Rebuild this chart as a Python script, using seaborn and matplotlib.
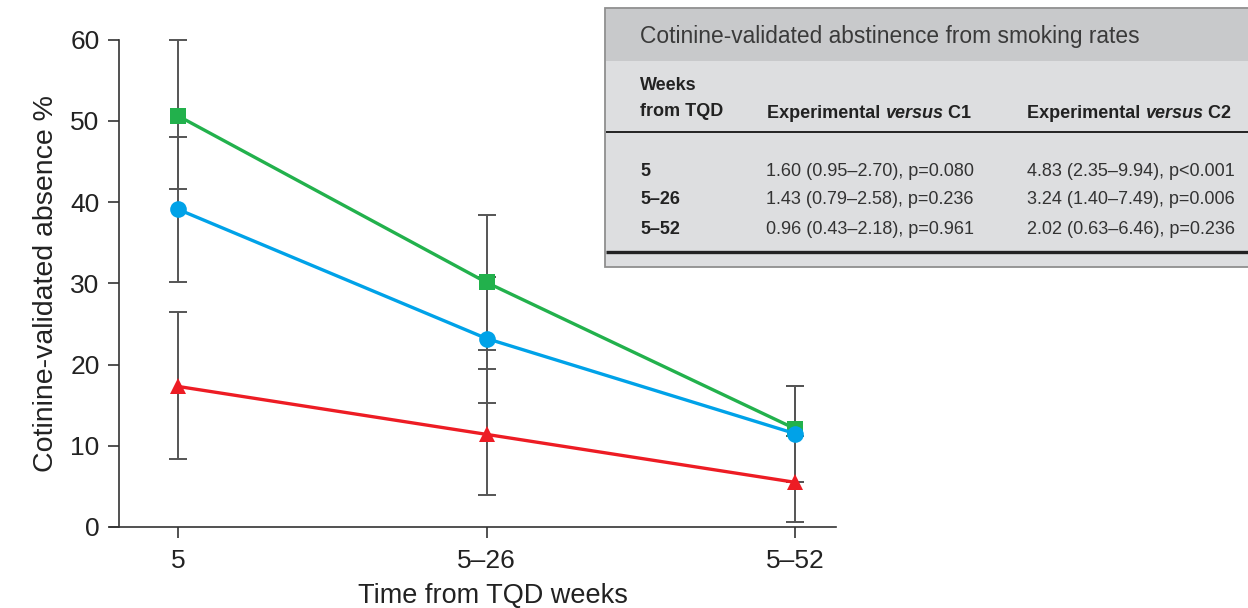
import numpy as np
import pandas as pd
import matplotlib
matplotlib.use("Agg")
import matplotlib.pyplot as plt
import seaborn as sns
from matplotlib.patches import Rectangle

sns.set_theme(style="white")
plt.rcParams["font.family"] = ["Liberation Sans", "DejaVu Sans"]

# Follow-up periods (weeks from target quit date)
periods = ["5", "5–26", "5–52"]

# Cotinine-validated abstinence (%) with 95% CI bounds
experimental = [50.6, 30.1, 12.1]
experimental_lo = [41.6, 21.8, 5.6]
experimental_hi = [59.9, 38.4, 17.4]

control1 = [39.1, 23.2, 11.5]
control1_lo = [30.2, 15.3, 5.6]
control1_hi = [48.0, 30.8, 17.4]

control2 = [17.3, 11.4, 5.5]
control2_lo = [8.4, 3.9, 0.6]
control2_hi = [26.5, 19.4, 11.2]

# Odds ratios table
table_title = "Cotinine-validated abstinence from smoking rates"
row_labels = ["5", "5–26", "5–52"]
vs_c1 = ["1.60 (0.95–2.70), p=0.080", "1.43 (0.79–2.58), p=0.236", "0.96 (0.43–2.18), p=0.961"]
vs_c2 = ["4.83 (2.35–9.94), p<0.001", "3.24 (1.40–7.49), p=0.006", "2.02 (0.63–6.46), p=0.236"]

groups = ["Experimental", "C1", "C2"]
colors = {"Experimental": "#22b14c", "C1": "#00a2e8", "C2": "#ed1c24"}
markers = {"Experimental": "s", "C1": "o", "C2": "^"}
msizes = {"Experimental": 11, "C1": 12, "C2": 12}

xpos = np.arange(len(periods))
df = pd.DataFrame({
    "x": np.tile(xpos, 3),
    "rate": experimental + control1 + control2,
    "lo": experimental_lo + control1_lo + control2_lo,
    "hi": experimental_hi + control1_hi + control2_hi,
    "group": np.repeat(groups, len(periods)),
})

W, H = 1248, 608
fig = plt.figure(figsize=(W / 100, H / 100), dpi=100)
x0, x1 = 110, 836
y0, y1 = 527, 39.5
ax = fig.add_axes([x0 / W, (H - y0) / H, (x1 - x0) / W, (y0 - y1) / H])

# confidence intervals
for g in groups:
    d = df[df.group == g]
    ax.errorbar(d.x, d.rate, yerr=[d.rate - d.lo, d.hi - d.rate], fmt="none",
                ecolor="#555555", elinewidth=1.4, capsize=6.5, capthick=1.4,
                zorder=2, clip_on=False)

for g in groups:
    d = df[df.group == g]
    sns.lineplot(data=d, x="x", y="rate", ax=ax, color=colors[g], marker=markers[g],
                 markersize=msizes[g], markeredgewidth=0, linewidth=2.4,
                 zorder=3, clip_on=False, legend=False)

ppu = (795 - 178) / 2
ax.set_xlim(-(178 - x0) / ppu, (x1 - 178) / ppu)
ax.set_ylim(0, 60)
ax.set_xticks(xpos)
ax.set_xticklabels(periods)
ax.set_yticks(np.arange(0, 61, 10))

for s in ["top", "right"]:
    ax.spines[s].set_visible(False)
for s in ["left", "bottom"]:
    ax.spines[s].set_color("#333333")
    ax.spines[s].set_linewidth(1.2)
ax.spines["left"].set_position(("axes", 9 / (x1 - x0)))

ax.tick_params(axis="both", which="major", direction="out", length=8, width=1.2,
               color="#333333", labelcolor="#222222", labelsize=19, left=True, bottom=True)
ax.tick_params(axis="x", pad=8)
ax.tick_params(axis="y", pad=6)
ax.set_xlabel("Time from TQD weeks", fontsize=19.5, color="#222222")
ax.xaxis.set_label_coords((493 - x0) / (x1 - x0), -(583 - y0) / (y0 - y1))
ax.set_ylabel("Cotinine-validated absence %", fontsize=20.5, color="#222222", labelpad=8)
ax.grid(False)

# table panel in pixel coordinates
tab = fig.add_axes([0, 0, 1, 1], zorder=5)
tab.set_xlim(0, W)
tab.set_ylim(H, 0)
tab.axis("off")
tab.add_patch(Rectangle((605, 8), 700, 259, facecolor="#dddee0", edgecolor="#8f8f8f", linewidth=1.3))
tab.add_patch(Rectangle((605.7, 8.7), 700, 52, facecolor="#c8c9cb", edgecolor="none"))
tab.plot([606, W], [132, 132], color="#222222", linewidth=1.4, solid_capstyle="butt")
tab.plot([606, W], [252, 252], color="#222222", linewidth=2.4, solid_capstyle="butt")

tcol = "#222222"
fs_bold = 13
fs_val = 13
tab.text(640, 37, table_title, fontsize=16.4, color="#3a3a3a", va="center", ha="left")
tab.text(640, 86, "Weeks", fontsize=fs_bold, fontweight="bold", color=tcol, va="center")
tab.text(640, 111, "from TQD", fontsize=fs_bold, fontweight="bold", color=tcol, va="center")

fig.canvas.draw()
renderer = fig.canvas.get_renderer()


def rich(x, y, parts):
    # y is the text baseline in pixels
    for txt, style in parts:
        t = tab.text(x, y, txt, fontsize=fs_bold, fontweight="bold", fontstyle=style,
                     color=tcol, va="baseline", ha="left")
        bb = t.get_window_extent(renderer)
        x += bb.width


base = 111 + 0.36 * fs_bold * 100 / 72
rich(767, base, [("Experimental ", "normal"), ("versus", "italic"), (" C1", "normal")])
rich(1027, base, [("Experimental ", "normal"), ("versus", "italic"), (" C2", "normal")])

for y, lab, a, b in zip([172, 200, 229], row_labels, vs_c1, vs_c2):
    tab.text(640, y, lab, fontsize=fs_bold, fontweight="bold", color=tcol, va="center")
    tab.text(766, y, a, fontsize=fs_val, color="#333333", va="center")
    tab.text(1027, y, b, fontsize=fs_val, color="#333333", va="center")

fig.savefig("out.png", dpi=100)
